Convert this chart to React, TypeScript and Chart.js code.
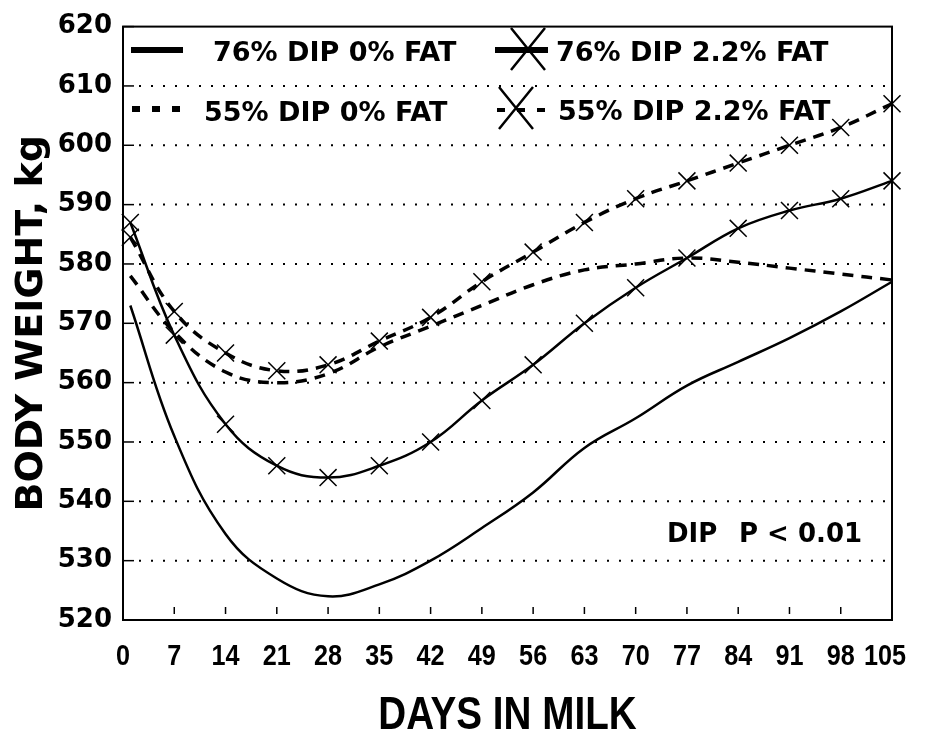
import React, { useEffect, useRef } from "react";
import { Chart, registerables } from "chart.js";

Chart.register(...registerables);

// ---------- data ----------
const days = [1, 7, 14, 21, 28, 35, 42, 49, 56, 63, 70, 77, 84, 91, 98, 105];
const xTickValues = [0, 7, 14, 21, 28, 35, 42, 49, 56, 63, 70, 77, 84, 91, 98, 105];
const yTickValues = [520, 530, 540, 550, 560, 570, 580, 590, 600, 610, 620];

const seriesLabels = ["76% DIP 0% FAT", "76% DIP 2.2% FAT", "55% DIP 0% FAT", "55% DIP 2.2% FAT"];
const dip76Fat0 = [573, 551, 534.5, 527, 524, 526, 530, 535.5, 541.5, 549, 554, 559.5, 563.5, 567.5, 572, 577];
const dip76Fat22 = [587, 568, 553, 546, 544, 546, 550, 557, 563, 570, 576, 581, 586, 589, 591, 594];
const dip55Fat0 = [578, 568.5, 561.8, 560, 561.5, 566, 569.5, 573, 576.5, 579, 580, 581, 580.3, 579.3, 578.3, 577.3];
const dip55Fat22 = [584.5, 572, 565, 562, 563, 567, 571, 577, 582, 587, 591, 594, 597, 600, 603, 607];

const noteText = ["DIP", "P < 0.01"];
const xTitle = "DAYS IN MILK";
const yTitle = "BODY WEIGHT, kg";

// ---------- styling ----------
const WIDE = "'DejaVu Sans', Verdana, sans-serif";
const SANS = "'Liberation Sans', Arial, sans-serif";
const NARROW_SCALE = 0.84;

function drawBigX(ctx: CanvasRenderingContext2D, cx: number, cy: number, hw: number, hh: number, lw: number) {
  ctx.save();
  ctx.lineWidth = lw;
  ctx.setLineDash([]);
  ctx.beginPath();
  ctx.moveTo(cx - hw, cy - hh);
  ctx.lineTo(cx + hw, cy + hh);
  ctx.moveTo(cx + hw, cy - hh);
  ctx.lineTo(cx - hw, cy + hh);
  ctx.stroke();
  ctx.restore();
}

function narrowText(ctx: CanvasRenderingContext2D, text: string, cx: number, baseline: number) {
  ctx.save();
  ctx.translate(cx, baseline);
  ctx.scale(NARROW_SCALE, 1);
  ctx.textAlign = "center";
  ctx.textBaseline = "alphabetic";
  ctx.fillText(text, 0, 0);
  ctx.restore();
}

const framePlugin = {
  id: "frame",
  beforeDatasetsDraw(chart: any) {
    const { ctx, chartArea: a, scales } = chart;
    const x = scales.x;
    const y = scales.y;
    ctx.save();
    ctx.strokeStyle = "#000";
    // dotted horizontal grid
    ctx.lineWidth = 2;
    ctx.setLineDash([2, 10]);
    yTickValues.forEach((v) => {
      if (v === y.min || v === y.max) return;
      const py = y.getPixelForValue(v);
      ctx.beginPath();
      ctx.moveTo(a.left + 16, py);
      ctx.lineTo(a.right, py);
      ctx.stroke();
    });
    ctx.setLineDash([]);
    // inward y ticks
    ctx.lineWidth = 1.5;
    yTickValues.forEach((v) => {
      const py = y.getPixelForValue(v);
      ctx.beginPath();
      ctx.moveTo(a.left, py);
      ctx.lineTo(a.left + 11, py);
      ctx.stroke();
    });
    // inward x ticks
    xTickValues.forEach((v) => {
      if (v === x.min || v === x.max) return;
      const px = x.getPixelForValue(v);
      ctx.beginPath();
      ctx.moveTo(px, a.bottom - 13);
      ctx.lineTo(px, a.bottom - 6);
      ctx.stroke();
    });
    // frame
    ctx.lineWidth = 2;
    ctx.strokeRect(a.left, a.top, a.right - a.left, a.bottom - a.top);
    ctx.restore();
  },
  afterDraw(chart: any) {
    const { ctx, chartArea: a, scales } = chart;
    const x = scales.x;
    const ds = chart.data.datasets;
    ctx.save();
    ctx.strokeStyle = "#000";
    ctx.fillStyle = "#000";

    // x tick labels (condensed bold) and x title
    ctx.font = `bold 30px ${SANS}`;
    xTickValues.forEach((v, i) => {
      const shift = i === xTickValues.length - 1 ? -7 : 0;
      narrowText(ctx, String(v), x.getPixelForValue(v) + shift, 665);
    });
    ctx.font = `bold 46px ${SANS}`;
    narrowText(ctx, xTitle, (a.left + a.right) / 2, 729);

    // legend
    ctx.font = `bold 27px ${WIDE}`;
    ctx.textBaseline = "alphabetic";
    ctx.textAlign = "left";

    ctx.lineWidth = 6;
    ctx.setLineDash([]);
    ctx.beginPath();
    ctx.moveTo(131, 50);
    ctx.lineTo(183, 50);
    ctx.stroke();
    ctx.fillText(ds[0].label, 213, 61);

    ctx.lineWidth = 6;
    ctx.beginPath();
    ctx.moveTo(495, 50);
    ctx.lineTo(548, 50);
    ctx.stroke();
    drawBigX(ctx, 528, 49, 17, 21, 2.5);
    ctx.fillText(ds[1].label, 556, 61);

    ctx.lineWidth = 6;
    ctx.setLineDash([8, 12]);
    ctx.beginPath();
    ctx.moveTo(132, 109);
    ctx.lineTo(181, 109);
    ctx.stroke();
    ctx.setLineDash([]);
    ctx.fillText(ds[2].label, 204, 121);

    ctx.lineWidth = 4;
    ctx.setLineDash([8, 12]);
    ctx.beginPath();
    ctx.moveTo(497, 110);
    ctx.lineTo(548, 110);
    ctx.stroke();
    ctx.setLineDash([]);
    drawBigX(ctx, 516, 108, 17, 21, 2.5);
    ctx.fillText(ds[3].label, 558, 120);

    // note
    ctx.font = `bold 26px ${WIDE}`;
    ctx.fillText(noteText[0], 667, 542);
    ctx.fillText(noteText[1], 739, 542);
    ctx.restore();
  },
};

function mk(values: number[]) {
  return days.map((d, i) => ({ x: d, y: values[i] }));
}

export default function App() {
  const ref = useRef<HTMLCanvasElement | null>(null);

  useEffect(() => {
    if (!ref.current) return;
    const common = {
      borderColor: "#000",
      backgroundColor: "#000",
      fill: false,
      tension: 0.4,
      clip: false as any,
    };
    const chart = new Chart(ref.current, {
      type: "line",
      data: {
        datasets: [
          { ...common, label: seriesLabels[0], data: mk(dip76Fat0), borderWidth: 2.5, pointRadius: 0 },
          {
            ...common,
            label: seriesLabels[1],
            data: mk(dip76Fat22),
            borderWidth: 2.5,
            pointStyle: "crossRot",
            pointRadius: 12,
            pointBorderWidth: 1.5,
            pointBorderColor: "#000",
            pointBackgroundColor: "rgba(0,0,0,0)",
          },
          { ...common, label: seriesLabels[2], data: mk(dip55Fat0), borderWidth: 3.5, borderDash: [11, 8], pointRadius: 0 },
          {
            ...common,
            label: seriesLabels[3],
            data: mk(dip55Fat22),
            borderWidth: 3.5,
            borderDash: [11, 8],
            pointStyle: "crossRot",
            pointRadius: 12,
            pointBorderWidth: 1.5,
            pointBorderColor: "#000",
            pointBackgroundColor: "rgba(0,0,0,0)",
          },
        ] as any,
      },
      options: {
        responsive: false,
        animation: false,
        devicePixelRatio: 1,
        layout: { padding: { top: 19, right: 34, left: 0, bottom: 0 } },
        plugins: {
          legend: { display: false },
          tooltip: { enabled: false },
        },
        scales: {
          x: {
            type: "linear",
            min: 0,
            max: 105,
            afterBuildTicks: (s: any) => {
              s.ticks = xTickValues.map((v) => ({ value: v }));
            },
            afterFit: (s: any) => {
              s.height = 116;
            },
            grid: { display: false, drawTicks: false },
            border: { display: false },
            ticks: { display: false },
            title: { display: false, text: xTitle },
          },
          y: {
            type: "linear",
            min: 520,
            max: 620,
            afterBuildTicks: (s: any) => {
              s.ticks = yTickValues.map((v) => ({ value: v }));
            },
            afterFit: (s: any) => {
              s.width = 123;
            },
            grid: { display: false, drawTicks: false },
            border: { display: false },
            ticks: {
              color: "#000",
              font: { family: WIDE, size: 26, weight: "bold" },
              padding: 11,
            },
            title: {
              display: true,
              text: yTitle,
              color: "#000",
              font: { family: WIDE, size: 38, weight: "bold", lineHeight: 1.2 },
              padding: { top: 9, bottom: 0 },
            },
          },
        },
      } as any,
      plugins: [framePlugin as any],
    });
    return () => chart.destroy();
  }, []);

  return (
    <div style={{ position: "absolute", left: 0, top: 0, width: 926, height: 736, background: "#fff" }}>
      <canvas ref={ref} width={926} height={736} style={{ display: "block", width: 926, height: 736 }} />
    </div>
  );
}
